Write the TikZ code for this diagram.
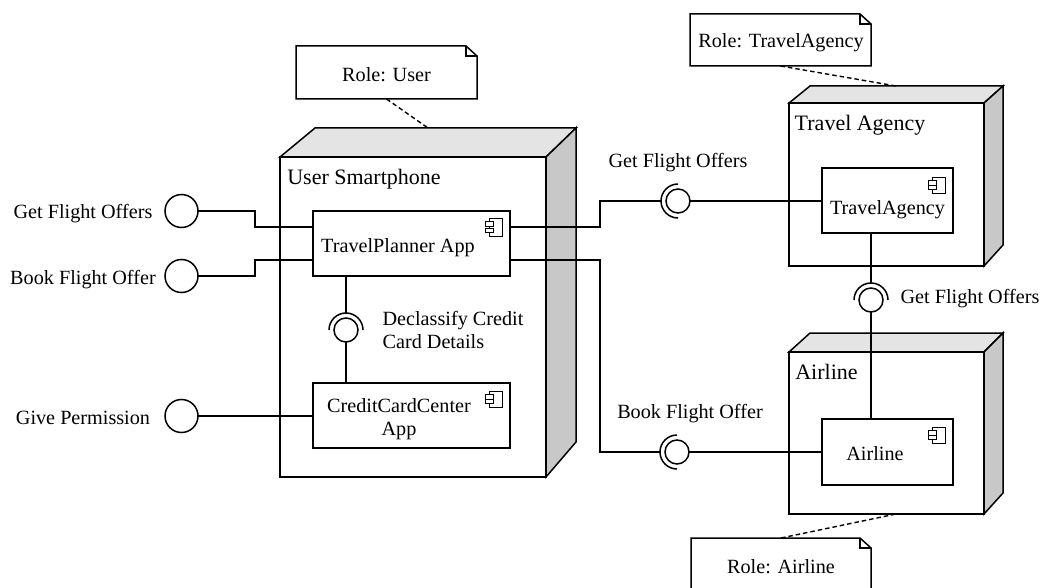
\documentclass[tikz,border=0pt]{standalone}
\usepackage{fontspec}
\setmainfont{Liberation Serif}
\definecolor{topgray}{HTML}{E4E4E4}
\definecolor{sidegray}{HTML}{C8C8C8}
\newcommand{\devicebody}[5]{
  \draw[fill=topgray] ([yshift=-#4pt]#1.north west) -- ([xshift=#2pt]#1.north west) -- (#1.north east) -- ([xshift=-#3pt,yshift=-#4pt]#1.north east) -- cycle;
  \draw[fill=sidegray] (#1.north east) -- ([yshift=#5pt]#1.south east) -- ([xshift=-#3pt]#1.south east) -- ([xshift=-#3pt,yshift=-#4pt]#1.north east) -- cycle;
  \draw[fill=white] ([yshift=-#4pt]#1.north west) rectangle ([xshift=-#3pt]#1.south east);
}
\newcommand{\notefold}[1]{
  \draw (#1.north west) -- ([xshift=-11pt]#1.north east) -- ([yshift=-10pt]#1.north east) -- (#1.south east) -- (#1.south west) -- cycle;
  \draw ([xshift=-11pt]#1.north east) -- ([xshift=-11pt,yshift=-10pt]#1.north east) -- ([yshift=-10pt]#1.north east);
}
\newcommand{\compicon}[3]{
  \draw[line width=0.9pt] ([xshift=-21pt,yshift=-#2pt]#1.north east) rectangle ([xshift=-8pt,yshift=-#3pt]#1.north east);
  \draw[line width=0.9pt,fill=white] ([xshift=-25pt,yshift=-#2pt-3.5pt]#1.north east) rectangle ([xshift=-17pt,yshift=-#2pt-8pt]#1.north east);
  \draw[line width=0.9pt,fill=white] ([xshift=-25pt,yshift=-#3pt+3.5pt]#1.north east) rectangle ([xshift=-17pt,yshift=-#3pt+8pt]#1.north east);
}
\begin{document}
\begin{tikzpicture}
        [x=1pt,y=-1pt,line width=1.5pt,
        device/.style={inner sep=0,outer sep=0},
        compbox/.style={draw,fill=white,inner sep=0,outer sep=0},
        notebox/.style={inner sep=0,outer sep=0},
        lolly/.style={draw,shape=circle,inner sep=0,outer sep=0,minimum size=33pt},
        sock/.style={draw,shape=circle,inner sep=0,outer sep=0,minimum size=24pt},
        lbl/.style={inner sep=0,font=\fontsize{20.2pt}{22.5pt}\selectfont},
        biglbl/.style={inner sep=0,font=\fontsize{22pt}{24pt}\selectfont},
        notelink/.style={line width=1.4pt,dash pattern=on 4.5pt off 3pt}]

        \useasboundingbox (0,0) rectangle (1041,588);

        \node[device,minimum width=296pt,minimum height=349pt] (phone) at (428,302.5) {};
        \node[device,minimum width=214pt,minimum height=180pt] (agency) at (896,176) {};
        \node[device,minimum width=214pt,minimum height=181pt] (airline) at (896,423.5) {};
        \devicebody{phone}{35}{30}{29}{35}
        \devicebody{agency}{21}{19}{17}{21}
        \devicebody{airline}{21}{19}{19}{21}

        \node[notebox,minimum width=181pt,minimum height=53pt] (noteUser) at (386.5,72.5) {};
        \node[notebox,minimum width=181pt,minimum height=52pt] (noteAgency) at (780.5,40) {};
        \node[notebox,minimum width=180pt,minimum height=53pt] (noteAirline) at (781,564.5) {};
        \notefold{noteUser}
        \notefold{noteAgency}
        \notefold{noteAirline}

        \draw[notelink] (noteUser.south) -- (phone.north);
        \draw[notelink] (noteAgency.south) -- (agency.north);
        \draw[notelink] (noteAirline.north) -- (airline.south);

        \node[lolly] (inGet) at (181.5,211) {};
        \node[lolly] (inBook) at (181.5,276) {};
        \node[lolly] (inGive) at (181.5,416) {};
        \node[sock] (sockDeclass) at (346,330) {};
        \node[sock] (sockGet) at (678,201) {};
        \node[sock] (sockBook) at (677,452) {};
        \node[sock] (sockAirline) at (871,300) {};

        \coordinate (bendGet) at (255,227);
        \coordinate (bendBook) at (255,260);
        \coordinate (tpWestA) at (313,227);
        \coordinate (tpWestB) at (313,260);
        \coordinate (tpEastA) at (510,227);
        \coordinate (tpEastB) at (510,260);
        \coordinate (bendOut) at (600,227);
        \coordinate (bendDown) at (600,260);
        \coordinate (tpSouth) at (346,276);
        \coordinate (ccNorth) at (346,383);
        \coordinate (taWest) at (822,201);
        \coordinate (alWest) at (822,452);
        \coordinate (ccWest) at (313,416);
        \coordinate (taSouth) at (871,233);
        \coordinate (alNorth) at (871,419);

        \draw (inGet.east) -| (bendGet) -- (tpWestA);
        \draw (inBook.east) -| (bendBook) -- (tpWestB);
        \draw (inGive.east) -- (ccWest);
        \draw (tpEastA) -- (bendOut) |- ([xshift=-17pt]sockGet.center);
        \draw (sockGet.east) -- (taWest);
        \draw (tpEastB) -- (bendDown) |- ([xshift=-17pt]sockBook.center);
        \draw (sockBook.east) -- (alWest);
        \draw (tpSouth) -- ([yshift=17pt]sockDeclass.center);
        \draw (sockDeclass.south) -- (ccNorth);
        \draw (taSouth) -- ([yshift=17pt]sockAirline.center);
        \draw (sockAirline.south) -- (alNorth);

        \draw ([yshift=17pt]sockGet.center) arc[start angle=90,end angle=270,radius=17pt];
        \draw ([yshift=17pt]sockBook.center) arc[start angle=90,end angle=270,radius=17pt];
        \draw ([xshift=17pt]sockDeclass.center) arc[start angle=0,end angle=180,radius=17pt];
        \draw ([xshift=17pt]sockAirline.center) arc[start angle=0,end angle=180,radius=17pt];

        \node[compbox,minimum width=197pt,minimum height=65pt] (planner) at (411.5,243.5) {};
        \node[compbox,minimum width=197pt,minimum height=65pt] (cardcenter) at (411.5,415.5) {};
        \node[compbox,minimum width=131pt,minimum height=65pt] (agencyapp) at (887.5,200.5) {};
        \node[compbox,minimum width=131pt,minimum height=66pt] (airlineapp) at (887.5,452) {};
        \compicon{planner}{7}{25}
        \compicon{cardcenter}{8}{24}
        \compicon{agencyapp}{9}{25}
        \compicon{airlineapp}{8}{24}

        \node[biglbl] (userLbl) at (364,179) {User Smartphone};
        \node[biglbl] (agencyLbl) at (860,125) {Travel Agency};
        \node[biglbl] (airlineLbl) at (826.5,372) {Airline};
        \node[lbl] (plannerLbl) at (398,248) {TravelPlanner App};
        \node[lbl,align=center] (cardLbl) at (399,419) {CreditCardCenter\\App};
        \node[lbl] (agencyappLbl) at (887.5,210) {TravelAgency};
        \node[lbl] (airlineappLbl) at (875,454) {Airline};
        \node[lbl] (roleUser) at (386.5,74.5) {Role: User};
        \node[lbl] (roleAgency) at (781,43) {Role: TravelAgency};
        \node[lbl] (roleAirline) at (781,567) {Role: Airline};
        \node[lbl] (getLeft) at (83,214) {Get Flight Offers};
        \node[lbl] (bookLeft) at (83,280) {Book Flight Offer};
        \node[lbl] (giveLeft) at (83,418) {Give Permission};
        \node[lbl] (getTop) at (678,163) {Get Flight Offers};
        \node[lbl] (getRight) at (970,299) {Get Flight Offers};
        \node[lbl] (bookMid) at (690,414) {Book Flight Offer};
        \node[lbl,align=left] (declassLbl) at (453,330) {Declassify Credit\\Card Details};
      \end{tikzpicture}
\end{document}
